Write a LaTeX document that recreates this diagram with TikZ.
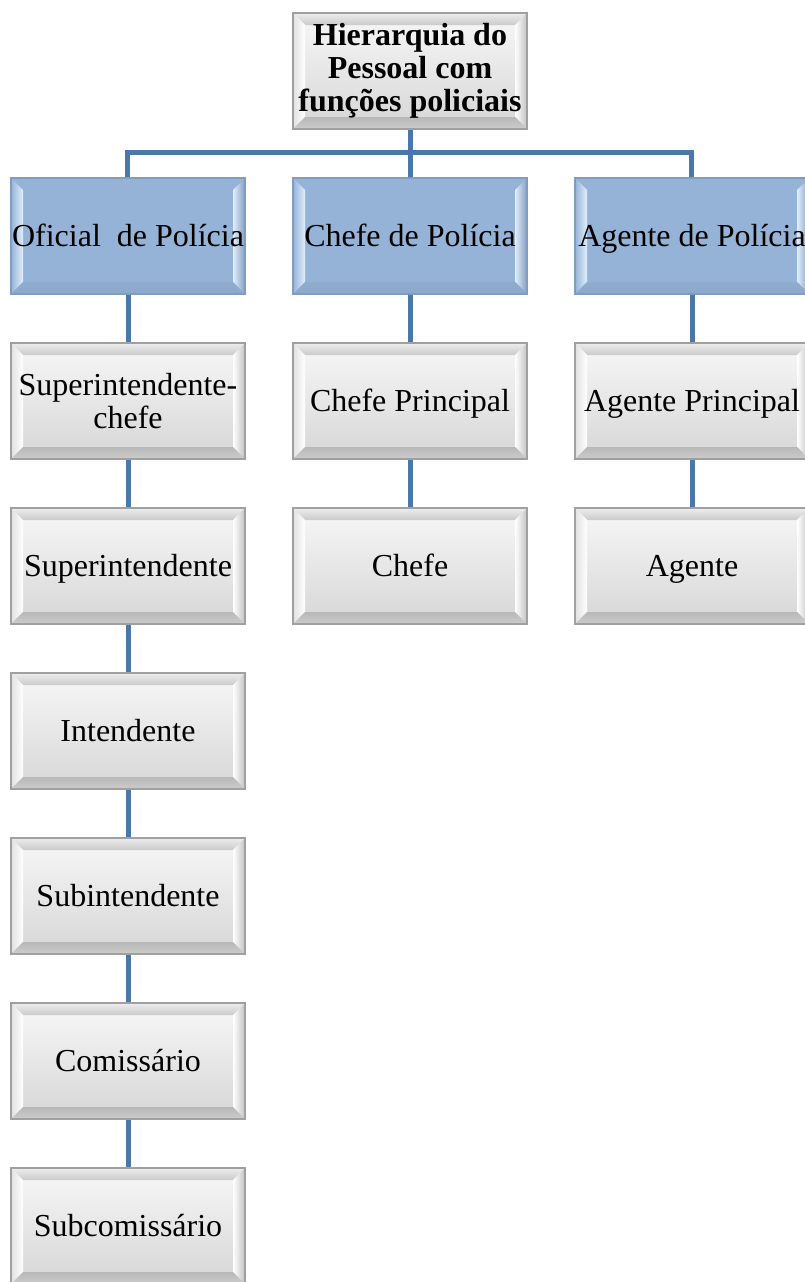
\documentclass[tikz,border=0pt]{standalone}
\usepackage{fontspec}
\setmainfont{Liberation Serif}
\definecolor{conn}{RGB}{74,120,172}
\definecolor{bluebody}{RGB}{149,179,215}
\definecolor{bluedark}{RGB}{128,156,194}
\definecolor{bluelight}{RGB}{225,238,252}
\definecolor{grayedge}{RGB}{160,160,160}
\newcommand\bevelfaces[7]{%
  \path (path picture bounding box.south west) coordinate (p1)
        (path picture bounding box.north east) coordinate (p3);
  \path (p1) ++(12pt,12pt) coordinate (q1) (p3) ++(-12pt,-12pt) coordinate (q3);
  \shade[top color=#1,bottom color=#2] (p1) rectangle (p3);
  \shade[top color=#3,bottom color=#3!80!#2] (p1 |- p3) -- (p3) -- (q3) -- (q1 |- q3) -- cycle;
  \shade[left color=#4,right color=#5] (p1) -- (p1 |- p3) -- (q1 |- q3) -- (q1) -- cycle;
  \shade[left color=#5,right color=#6] (p3 |- p1) -- (p3) -- (q3) -- (q3 |- q1) -- cycle;
  \shade[top color=#7!70!#2,bottom color=#7] (p1) -- (p3 |- p1) -- (q3 |- q1) -- (q1) -- cycle;
}
\tikzset{
  box/.style={rectangle, minimum width=234pt, minimum height=116pt, inner sep=0pt,
    align=center, text height=25pt, text depth=5pt, font=\fontsize{32}{32.5}\selectfont},
  multiline/.style={text height=, text depth=},
  graybox/.style={box, draw=grayedge, line width=1.2pt,
    path picture={\bevelfaces{white!97!black}{white!84!black}{white!93!black}{white!88!black}{white}{white!76!black}{white!80!black}}},
  bluebox/.style={box, draw=bluedark, line width=1.2pt,
    path picture={\bevelfaces{bluebody}{bluebody}{bluebody}{bluebody}{bluelight}{bluebody!88!black}{bluebody!94!black}}},
  titlebox/.style={graybox, multiline, font=\fontsize{32}{33}\selectfont\bfseries},
  link/.style={draw=conn, line width=5pt}
}
\begin{document}
\begin{tikzpicture}[x=1pt,y=-1pt]
\useasboundingbox (0,0) rectangle (804,1282);
% top
\node[titlebox] (top) at (410,71) {Hierarquia do\\Pessoal com\\funções policiais};
% level 1
\node[bluebox] (c1) at (128,236) {Oficial~ de Polícia};
\node[bluebox] (c2) at (410,236) {Chefe de Polícia};
\node[bluebox] (c3) at (692,236) {Agente de Polícia};
% column 1
\node[graybox, multiline] (a1) at (128,401) {Superintendente-\\chefe};
\node[graybox] (a2) at (128,566) {Superintendente};
\node[graybox] (a3) at (128,731) {Intendente};
\node[graybox] (a4) at (128,896) {Subintendente};
\node[graybox] (a5) at (128,1061) {Comissário};
\node[graybox] (a6) at (128,1226) {Subcomissário};
% column 2
\node[graybox] (b1) at (410,401) {Chefe Principal};
\node[graybox] (b2) at (410,566) {Chefe};
% column 3
\node[graybox] (d1) at (692,401) {Agente Principal};
\node[graybox] (d2) at (692,566) {Agente};
% connectors
\coordinate (hub) at (410,152);
\draw[link] (top.south) -- (hub);
\draw[link] (hub) -| ([xshift=-1pt]c1.north);
\draw[link] (hub) -- (c2.north);
\draw[link] (hub) -| ([xshift=-1pt]c3.north);
\draw[link] (c1) -- (a1);
\draw[link] (a1) -- (a2);
\draw[link] (a2) -- (a3);
\draw[link] (a3) -- (a4);
\draw[link] (a4) -- (a5);
\draw[link] (a5) -- (a6);
\draw[link] (c2) -- (b1);
\draw[link] (b1) -- (b2);
\draw[link] (c3) -- (d1);
\draw[link] (d1) -- (d2);
\end{tikzpicture}
\end{document}
